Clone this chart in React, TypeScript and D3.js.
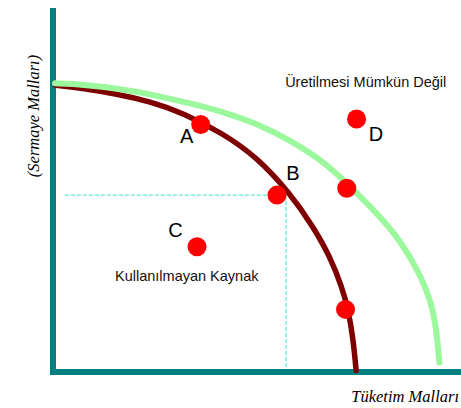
import React, { useEffect, useRef } from 'react';
import * as d3 from 'd3';

// PPF curves (x = consumer goods, y = capital goods, 0..100)
const oldFrontier: [number, number][] = [
  [0.7, 78.8], [7.4, 77.9], [15.6, 76.4], [23.8, 74.3], [31.9, 71.2], [41.7, 65.5],
  [49.9, 59.1], [58.1, 49.1], [63.8, 39.9], [67.9, 31.7], [70.8, 23.4],
  [72.4, 17.0], [73.6, 8.8], [74.3, 0.4],
];
const newFrontier: [number, number][] = [
  [0.5, 79.3], [7.4, 79.0], [15.6, 77.9], [23.8, 76.4], [33.6, 73.8], [41.7, 71.5],
  [49.9, 68.3], [58.1, 63.7], [66.3, 57.8], [71.2, 52.7], [75.2, 48.3], [80.1, 42.7],
  [85.0, 36.3], [89.9, 27.1], [92.8, 18.9], [94.0, 11.5], [94.7, 2.6],
];

const pointNames = ['A', 'B', 'C', 'D', '', ''];
const pointX = [36.2, 54.9, 35.3, 74.4, 72.0, 71.7];
const pointY = [68.0, 48.6, 34.4, 69.5, 50.5, 17.2];

// guide lines for B
const guideX = 57.1;
const guideY = 48.6;
const guideStartX = 2.9;

const notes = ['Üretilmesi Mümkün Değil', 'Kullanılmayan Kaynak'];
const noteX = [56.9, 15.2];
const noteY = [78.2, 25.0];

const xTitle = 'Tüketim Malları';
const yTitle = '(Sermaye Malları)';

const App = () => {
  const ref = useRef<SVGSVGElement>(null);

  useEffect(() => {
    const width = 461;
    const height = 408;
    const svg = d3.select(ref.current).attr('width', width).attr('height', height);
    svg.selectAll('*').remove();

    const x = d3.scaleLinear().domain([0, 100]).range([53, 461]);
    const y = d3.scaleLinear().domain([0, 100]).range([372, 8]);

    const sans = '"Liberation Sans", Arial, sans-serif';
    const serif = '"Liberation Serif", "Times New Roman", serif';

    // guides
    svg.append('line')
      .attr('x1', x(guideStartX)).attr('y1', y(guideY))
      .attr('x2', x(guideX)).attr('y2', y(guideY))
      .attr('stroke', '#40e0c8').attr('stroke-width', 1).attr('stroke-dasharray', '4,2');
    svg.append('line')
      .attr('x1', x(guideX)).attr('y1', y(guideY))
      .attr('x2', x(guideX)).attr('y2', y(0))
      .attr('stroke', '#40e0c8').attr('stroke-width', 1).attr('stroke-dasharray', '4,2');

    // axes
    svg.append('line')
      .attr('x1', x(0)).attr('y1', y(100))
      .attr('x2', x(0)).attr('y2', y(0) + 3)
      .attr('stroke', '#007f7f').attr('stroke-width', 6);
    svg.append('line')
      .attr('x1', x(0) - 3).attr('y1', y(0))
      .attr('x2', x(100)).attr('y2', y(0))
      .attr('stroke', '#007f7f').attr('stroke-width', 6);

    const line = d3.line<[number, number]>()
      .x(d => x(d[0]))
      .y(d => y(d[1]))
      .curve(d3.curveBasis);

    svg.append('path')
      .attr('d', line(oldFrontier))
      .attr('fill', 'none').attr('stroke', '#7f0000')
      .attr('stroke-width', 5.5).attr('stroke-linecap', 'round');
    svg.append('path')
      .attr('d', line(newFrontier))
      .attr('fill', 'none').attr('stroke', '#9cf89c')
      .attr('stroke-width', 6).attr('stroke-linecap', 'round');

    // points
    const labelOffset: Record<string, [number, number]> = {
      A: [-14, 18.5], B: [16, -15], C: [-21.5, -9.4], D: [19.3, 22],
    };
    pointX.forEach((px, i) => {
      svg.append('circle')
        .attr('cx', x(px)).attr('cy', y(pointY[i]))
        .attr('r', 9.5).attr('fill', '#ff0000');
      const name = pointNames[i];
      if (name) {
        svg.append('text')
          .attr('x', x(px) + labelOffset[name][0])
          .attr('y', y(pointY[i]) + labelOffset[name][1])
          .attr('text-anchor', 'middle')
          .style('font-family', sans).style('font-size', '20px')
          .attr('fill', '#000')
          .text(name);
      }
    });

    notes.forEach((t, i) => {
      svg.append('text')
        .attr('x', x(noteX[i])).attr('y', y(noteY[i]))
        .style('font-family', sans).style('font-size', '14.5px')
        .attr('fill', '#111')
        .text(t);
    });

    svg.append('text')
      .attr('x', 459).attr('y', 401.5)
      .attr('text-anchor', 'end')
      .style('font-family', serif).style('font-style', 'italic').style('font-size', '16.5px')
      .text(xTitle);
    svg.append('text')
      .attr('transform', 'translate(39,116) rotate(-90)')
      .attr('text-anchor', 'middle')
      .style('font-family', serif).style('font-style', 'italic').style('font-size', '16.5px')
      .text(yTitle);
  }, []);

  return <svg ref={ref} style={{ position: 'absolute', left: 0, top: 0 }} />;
};

export default App;
